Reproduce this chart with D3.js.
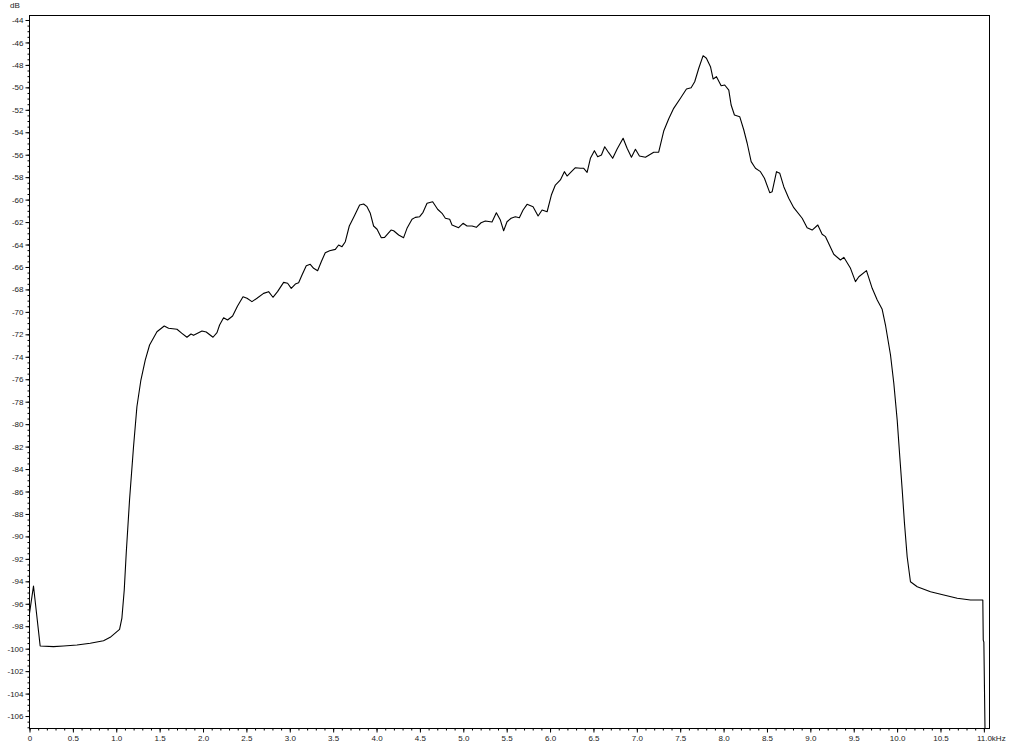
<!DOCTYPE html>
<html>
<head>
<meta charset="utf-8">
<script src="https://cdn.jsdelivr.net/npm/d3@7"></script>
<style>
  html, body { margin: 0; padding: 0; background: #fff; }
  svg { display: block; }
  text { font-family: "Liberation Sans", Arial, sans-serif; }
</style>
</head>
<body>
<svg id="chart" width="1024" height="745"></svg>
<script>
// Frequency (kHz)
const freq = [
  0.000, 0.046, 0.123, 0.277, 0.392, 0.547, 0.700, 0.853, 0.930, 1.038,
  1.065, 1.092, 1.115, 1.153, 1.199, 1.238, 1.284, 1.334, 1.384, 1.469,
  1.553, 1.603, 1.700, 1.757, 1.815, 1.861, 1.891, 1.988, 2.037, 2.115,
  2.161, 2.191, 2.237, 2.283, 2.341, 2.398, 2.461, 2.507, 2.564, 2.622,
  2.698, 2.756, 2.806, 2.859, 2.929, 2.975, 3.017, 3.064, 3.102, 3.141,
  3.190, 3.236, 3.275, 3.321, 3.363, 3.409, 3.459, 3.525, 3.563, 3.602,
  3.640, 3.686, 3.744, 3.805, 3.851, 3.890, 3.928, 3.966, 4.006, 4.055,
  4.093, 4.167, 4.197, 4.255, 4.312, 4.351, 4.409, 4.447, 4.497, 4.536,
  4.582, 4.647, 4.704, 4.755, 4.793, 4.843, 4.870, 4.946, 4.997, 5.043,
  5.101, 5.150, 5.205, 5.254, 5.331, 5.381, 5.427, 5.465, 5.504, 5.551,
  5.600, 5.646, 5.689, 5.735, 5.804, 5.862, 5.908, 5.966, 6.015, 6.061,
  6.119, 6.165, 6.196, 6.246, 6.292, 6.350, 6.388, 6.427, 6.465, 6.511,
  6.549, 6.592, 6.630, 6.676, 6.722, 6.773, 6.842, 6.888, 6.938, 6.984,
  7.030, 7.099, 7.157, 7.195, 7.252, 7.310, 7.368, 7.425, 7.503, 7.572,
  7.626, 7.667, 7.714, 7.764, 7.802, 7.849, 7.880, 7.918, 7.972, 8.013,
  8.060, 8.087, 8.125, 8.186, 8.233, 8.272, 8.318, 8.367, 8.425, 8.471,
  8.532, 8.560, 8.610, 8.648, 8.694, 8.751, 8.809, 8.906, 8.963, 9.021,
  9.086, 9.136, 9.175, 9.270, 9.347, 9.386, 9.463, 9.520, 9.559, 9.647,
  9.713, 9.771, 9.828, 9.866, 9.924, 9.962, 10.001, 10.031, 10.059, 10.085,
  10.116, 10.154, 10.232, 10.385, 10.538, 10.693, 10.846, 10.988, 10.993, 11.000,
  11.013
];
// Level (dB)
const level = [
  -96.85, -94.42, -99.76, -99.82, -99.76, -99.67, -99.52, -99.29, -98.99, -98.28,
  -97.27, -94.78, -91.48, -86.76, -82.01, -78.45, -76.07, -74.29, -72.95, -71.77,
  -71.26, -71.46, -71.55, -71.91, -72.26, -71.97, -72.09, -71.70, -71.79, -72.26,
  -71.85, -71.17, -70.52, -70.72, -70.37, -69.48, -68.65, -68.79, -69.09, -68.79,
  -68.35, -68.20, -68.70, -68.20, -67.37, -67.45, -67.90, -67.52, -67.40, -66.72,
  -65.89, -65.76, -66.12, -66.33, -65.53, -64.73, -64.55, -64.43, -64.04, -64.19,
  -63.75, -62.35, -61.46, -60.48, -60.39, -60.63, -61.22, -62.35, -62.64, -63.39,
  -63.36, -62.71, -62.77, -63.15, -63.39, -62.56, -61.75, -61.58, -61.52, -61.13,
  -60.33, -60.19, -60.86, -61.22, -61.66, -61.75, -62.26, -62.50, -62.11, -62.35,
  -62.35, -62.47, -62.06, -61.90, -61.99, -61.17, -61.82, -62.77, -61.97, -61.66,
  -61.52, -61.61, -60.93, -60.42, -60.63, -61.46, -60.93, -61.08, -59.59, -58.70,
  -58.25, -57.51, -57.90, -57.51, -57.16, -57.21, -57.21, -57.57, -56.32, -55.64,
  -56.18, -56.03, -55.29, -55.82, -56.32, -55.49, -54.54, -55.43, -56.23, -55.52,
  -56.11, -56.23, -55.96, -55.78, -55.78, -53.89, -52.80, -51.87, -50.97, -50.15,
  -50.03, -49.50, -48.30, -47.18, -47.41, -48.16, -49.26, -49.05, -49.85, -49.79,
  -50.24, -51.57, -52.46, -52.61, -53.80, -54.98, -56.62, -57.21, -57.51, -58.10,
  -59.38, -59.29, -57.51, -57.66, -58.85, -59.88, -60.72, -61.66, -62.50, -62.71,
  -62.26, -63.09, -63.30, -64.87, -65.38, -65.14, -66.12, -67.31, -66.87, -66.33,
  -67.90, -68.94, -69.77, -71.17, -73.84, -76.36, -79.63, -82.90, -85.87, -88.83,
  -91.81, -94.04, -94.48, -94.93, -95.22, -95.51, -95.67, -95.67, -99.23, -99.41,
  -107.10
];

// Axis ticks & labels
const xTickValues = [0, 0.5, 1, 1.5, 2, 2.5, 3, 3.5, 4, 4.5, 5, 5.5, 6, 6.5, 7, 7.5, 8, 8.5, 9, 9.5, 10, 10.5, 11];
const xTickLabels = ["0", "0.5", "1.0", "1.5", "2.0", "2.5", "3.0", "3.5", "4.0", "4.5", "5.0", "5.5", "6.0", "6.5", "7.0", "7.5", "8.0", "8.5", "9.0", "9.5", "10.0", "10.5", "11.0"];
const yTickValues = [-44, -46, -48, -50, -52, -54, -56, -58, -60, -62, -64, -66, -68, -70, -72, -74, -76, -78, -80, -82, -84, -86, -88, -90, -92, -94, -96, -98, -100, -102, -104, -106];
const xUnit = "kHz";
const yUnit = "dB";

const svg = d3.select("#chart");
const L = 29.5, R = 989.5, T = 15.5, B = 728.5;

const x = d3.scaleLinear().domain([0, 11.065]).range([L, R]);
const y = d3.scaleLinear().domain([-107.11, -43.6]).range([B, T]);

// Minor ticks
const xMinor = d3.range(0, 111).map(i => i / 10).filter(v => x(v) <= R);
const yMinor = d3.range(-214, -87).map(i => i / 2).filter(v => y(v) >= T && y(v) <= B);

svg.append("g")
  .attr("transform", `translate(0,${B})`)
  .call(d3.axisBottom(x).tickValues(xMinor).tickSize(2).tickFormat(""))
  .call(g => g.select(".domain").remove())
  .call(g => g.selectAll("line").attr("stroke", "#000"));

svg.append("g")
  .attr("transform", `translate(${L},0)`)
  .call(d3.axisLeft(y).tickValues(yMinor).tickSize(2).tickFormat(""))
  .call(g => g.select(".domain").remove())
  .call(g => g.selectAll("line").attr("stroke", "#000"));

// Major ticks with labels
svg.append("g")
  .attr("transform", `translate(0,${B})`)
  .call(d3.axisBottom(x).tickValues(xTickValues).tickSize(4).tickPadding(3)
    .tickFormat((d, i) => xTickLabels[i]))
  .call(g => g.select(".domain").remove())
  .call(g => g.selectAll("line").attr("stroke", "#000"))
  .call(g => g.selectAll("text")
    .attr("font-family", "'Liberation Sans', Arial, sans-serif")
    .attr("font-size", 8).attr("fill", "#222"));

svg.append("g")
  .attr("transform", `translate(${L},0)`)
  .call(d3.axisLeft(y).tickValues(yTickValues).tickSize(4).tickPadding(2)
    .tickFormat(d => String(d)))
  .call(g => g.select(".domain").remove())
  .call(g => g.selectAll("line").attr("stroke", "#000"))
  .call(g => g.selectAll("text")
    .attr("font-family", "'Liberation Sans', Arial, sans-serif")
    .attr("font-size", 8).attr("fill", "#222"));

// Unit labels
svg.append("text")
  .attr("x", x(11) + 8).attr("y", B + 4 + 3)
  .attr("dy", "0.71em")
  .attr("font-size", 8).attr("fill", "#222")
  .text(xUnit);

svg.append("text")
  .attr("x", 15).attr("y", 8)
  .attr("text-anchor", "middle")
  .attr("font-size", 8).attr("fill", "#222")
  .text(yUnit);

// Frame
svg.append("rect")
  .attr("x", L).attr("y", T)
  .attr("width", R - L).attr("height", B - T)
  .attr("fill", "none").attr("stroke", "#000").attr("stroke-width", 1);

// Spectrum line
const pts = freq.map((f, i) => [f, level[i]]);
svg.append("defs").append("clipPath").attr("id", "clip")
  .append("rect").attr("x", L).attr("y", T).attr("width", R - L).attr("height", B - T);

svg.append("path")
  .datum(pts)
  .attr("clip-path", "url(#clip)")
  .attr("fill", "none")
  .attr("stroke", "#000")
  .attr("stroke-width", 1.1)
  .attr("stroke-linejoin", "round")
  .attr("d", d3.line().x(d => x(d[0])).y(d => y(d[1])));
</script>
</body>
</html>
